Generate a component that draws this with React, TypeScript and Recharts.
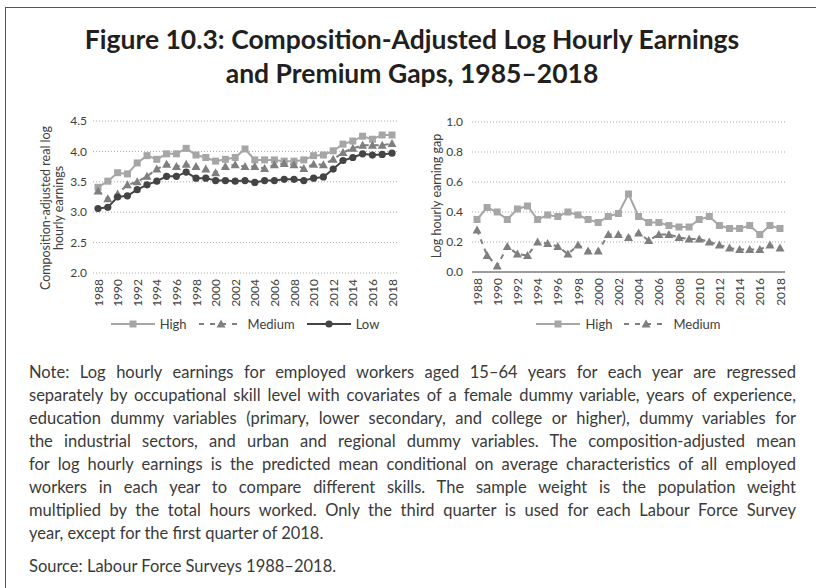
import React from "react";
import { LineChart, Line, XAxis, YAxis, CartesianGrid, Legend, Label } from "recharts";

const years = [
  "1988", "1989", "1990", "1991", "1992", "1993", "1994", "1995", "1996", "1997",
  "1998", "1999", "2000", "2001", "2002", "2003", "2004", "2005", "2006", "2007",
  "2008", "2009", "2010", "2011", "2012", "2013", "2014", "2015", "2016", "2017", "2018",
];

// composition-adjusted log hourly earnings
const earnHigh = [
  3.41, 3.51, 3.65, 3.63, 3.81, 3.93, 3.87, 3.96, 3.96, 4.05,
  3.94, 3.90, 3.84, 3.87, 3.90, 4.04, 3.86, 3.86, 3.86, 3.84,
  3.84, 3.86, 3.93, 3.94, 4.01, 4.12, 4.17, 4.25, 4.20, 4.27, 4.27,
];
const earnMedium = [
  3.35, 3.22, 3.30, 3.45, 3.50, 3.59, 3.71, 3.79, 3.75, 3.79,
  3.75, 3.71, 3.65, 3.75, 3.78, 3.75, 3.75, 3.72, 3.78, 3.80,
  3.78, 3.72, 3.79, 3.78, 3.87, 3.98, 4.05, 4.10, 4.10, 4.10, 4.13,
];
const earnLow = [
  3.06, 3.08, 3.25, 3.27, 3.37, 3.45, 3.51, 3.59, 3.59, 3.66,
  3.56, 3.56, 3.52, 3.52, 3.51, 3.52, 3.49, 3.52, 3.52, 3.54,
  3.54, 3.52, 3.56, 3.58, 3.71, 3.85, 3.90, 3.96, 3.94, 3.95, 3.97,
];

// premium gaps vs low skill
const gapHigh = [
  0.35, 0.43, 0.40, 0.35, 0.42, 0.44, 0.35, 0.38, 0.37, 0.40,
  0.38, 0.35, 0.33, 0.37, 0.39, 0.52, 0.37, 0.33, 0.33, 0.31,
  0.30, 0.30, 0.35, 0.37, 0.31, 0.29, 0.29, 0.31, 0.25, 0.31, 0.29,
];
const gapMedium = [
  0.28, 0.11, 0.04, 0.17, 0.12, 0.11, 0.20, 0.19, 0.17, 0.12,
  0.18, 0.14, 0.14, 0.25, 0.25, 0.23, 0.26, 0.21, 0.25, 0.25,
  0.23, 0.22, 0.22, 0.20, 0.18, 0.16, 0.15, 0.15, 0.15, 0.18, 0.16,
];

const earnTicks = [2.0, 2.5, 3.0, 3.5, 4.0, 4.5];
const gapTicks = [0, 0.1, 0.2, 0.3, 0.4, 0.5, 0.6, 0.7, 0.8, 0.9, 1.0];

const noteLines = [
  "Note: Log hourly earnings for employed workers aged 15–64 years for each year are regressed",
  "separately by occupational skill level with covariates of a female dummy variable, years of experience,",
  "education dummy variables (primary, lower secondary, and college or higher), dummy variables for",
  "the industrial sectors, and urban and regional dummy variables. The composition-adjusted mean",
  "for log hourly earnings is the predicted mean conditional on average characteristics of all employed",
  "workers in each year to compare different skills. The sample weight is the population weight",
  "multiplied by the total hours worked. Only the third quarter is used for each Labour Force Survey",
  "year, except for the first quarter of 2018.",
];

const earnData = years.map((year, i) => ({
  year,
  high: earnHigh[i],
  medium: earnMedium[i],
  low: earnLow[i],
}));
const gapData = years.map((year, i) => ({ year, high: gapHigh[i], medium: gapMedium[i] }));

const HIGH = "#a6a6a6";
const MED = "#7f7f7f";
const LOW = "#444444";
const TEXT = "#404040";
const FONT = "Lato, 'Open Sans', sans-serif";

type Shape = "square" | "triangle" | "circle";

function marker(shape: Shape, color: string, cx: number, cy: number, key?: any) {
  if (shape === "square") return <rect key={key} x={cx - 3.5} y={cy - 3.5} width={7} height={7} fill={color} />;
  if (shape === "triangle")
    return <polygon key={key} points={`${cx},${cy - 4.5} ${cx + 4.5},${cy + 3.5} ${cx - 4.5},${cy + 3.5}`} fill={color} />;
  return <circle key={key} cx={cx} cy={cy} r={3.6} fill={color} />;
}

const dotOf = (shape: Shape, color: string) => (p: any) => {
  if (p.cx == null || p.cy == null) return <g key={p.index} />;
  return marker(shape, color, p.cx, p.cy, p.index);
};

const YearTick = ({ x, y, payload }: any) => (
  <text
    x={x}
    y={y}
    transform={`rotate(-90, ${x}, ${y})`}
    textAnchor="end"
    dominantBaseline="central"
    fontSize={12}
    fill={TEXT}
    fontFamily={FONT}
  >
    {payload.value}
  </text>
);

type Item = { label: string; color: string; shape: Shape; dashed?: boolean };

const makeLegend = (items: Item[]) => () => (
  <div style={{ display: "flex", justifyContent: "center", alignItems: "center", height: 22, fontSize: 13, color: TEXT, fontFamily: FONT }}>
    {items.map((it) => (
      <span key={it.label} style={{ display: "inline-flex", alignItems: "center", margin: "0 6px" }}>
        <svg width={44} height={12}>
          <line x1={0} y1={6} x2={44} y2={6} stroke={it.color} strokeWidth={2} strokeDasharray={it.dashed ? "5 6" : undefined} />
          {marker(it.shape, it.color, 22, 6)}
        </svg>
        <span style={{ marginLeft: 5 }}>{it.label}</span>
      </span>
    ))}
  </div>
);

const yTitle = (lines: string[], x: number, y: number) => () => (
  <text transform={`rotate(-90, ${x}, ${y})`} x={x} y={y} textAnchor="middle" fontSize={12.5} fill={TEXT} fontFamily={FONT}>
    {lines.map((l, i) => (
      <tspan key={i} x={x} dy={i === 0 ? 0 : 13}>
        {l}
      </tspan>
    ))}
  </text>
);

function EarningsChart() {
  return (
    <LineChart width={390} height={225} data={earnData} margin={{ top: 11, right: 13, bottom: 0, left: 0 }}>
      <CartesianGrid vertical={false} stroke="#a8a8a8" strokeDasharray="1 2" />
      <XAxis
        dataKey="year"
        interval={1}
        axisLine={false}
        tickLine={false}
        tickSize={4}
        tickMargin={2}
        height={40}
        padding={{ left: 5, right: 5 }}
        tick={<YearTick />}
      />
      <YAxis
        width={73}
        domain={[2, 4.5]}
        ticks={earnTicks}
        axisLine={false}
        tickLine={false}
        tickSize={3}
        tickMargin={3}
        tickFormatter={(v: number) => v.toFixed(1)}
        tick={{ fontSize: 12, fill: TEXT, fontFamily: FONT }}
      >
        <Label content={yTitle(["Composition-adjusted real log", "hourly earnings"], 30, 98)} />
      </YAxis>
      <Legend
        verticalAlign="bottom"
        wrapperStyle={{ left: 73, width: 304, height: 22 }}
        content={makeLegend([
          { label: "High", color: HIGH, shape: "square" },
          { label: "Medium", color: MED, shape: "triangle", dashed: true },
          { label: "Low", color: LOW, shape: "circle" },
        ])}
      />
      <Line dataKey="high" stroke={HIGH} strokeWidth={2} dot={dotOf("square", HIGH)} isAnimationActive={false} />
      <Line dataKey="medium" stroke={MED} strokeWidth={2} strokeDasharray="5 5" dot={dotOf("triangle", MED)} isAnimationActive={false} />
      <Line dataKey="low" stroke={LOW} strokeWidth={2} dot={dotOf("circle", LOW)} isAnimationActive={false} />
    </LineChart>
  );
}

function GapChart() {
  return (
    <LineChart width={390} height={225} data={gapData} margin={{ top: 12, right: 15, bottom: 0, left: 0 }}>
      <CartesianGrid vertical={false} stroke="#a8a8a8" strokeDasharray="1 2" />
      <XAxis
        dataKey="year"
        interval={1}
        axisLine={{ stroke: "#808080", strokeWidth: 1.5 }}
        tickLine={false}
        tickSize={4}
        tickMargin={2}
        height={41}
        padding={{ left: 5, right: 5 }}
        tick={<YearTick />}
      />
      <YAxis
        width={62}
        domain={[0, 1]}
        ticks={gapTicks}
        axisLine={false}
        tickLine={false}
        tickSize={6}
        tickMargin={3}
        tickFormatter={(v: number) => v.toFixed(1)}
        tick={{ fontSize: 12, fill: TEXT, fontFamily: FONT }}
      >
        <Label content={yTitle(["Log hourly earning gap"], 31, 86)} />
      </YAxis>
      <Legend
        verticalAlign="bottom"
        wrapperStyle={{ left: 62, width: 313, height: 22 }}
        content={makeLegend([
          { label: "High", color: HIGH, shape: "square" },
          { label: "Medium", color: MED, shape: "triangle", dashed: true },
        ])}
      />
      <Line dataKey="high" stroke={HIGH} strokeWidth={2} dot={dotOf("square", HIGH)} isAnimationActive={false} />
      <Line dataKey="medium" stroke={MED} strokeWidth={2} strokeDasharray="5 5" dot={dotOf("triangle", MED)} isAnimationActive={false} />
    </LineChart>
  );
}

export default function App() {
  return (
    <div style={{ position: "absolute", left: 0, top: 0, width: 816, height: 588, overflow: "hidden", background: "#fff", fontFamily: FONT }}>
      <div style={{ position: "absolute", left: 5, top: 7, width: 900, height: 700, borderTop: "1.5px solid #555", borderLeft: "1.5px solid #555" }} />
      <div
        style={{
          position: "absolute",
          left: 0,
          top: 22,
          width: 824,
          textAlign: "center",
          fontSize: 26.5,
          lineHeight: "34px",
          fontWeight: 700,
          color: "#231f20",
        }}
      >
        <div>Figure 10.3: Composition-Adjusted Log Hourly Earnings</div>
        <div>and Premium Gaps, 1985–2018</div>
      </div>
      <div style={{ position: "absolute", left: 20, top: 110 }}>
        <EarningsChart />
      </div>
      <div style={{ position: "absolute", left: 410, top: 110 }}>
        <GapChart />
      </div>
      <div style={{ position: "absolute", left: 29, top: 361, width: 767, fontSize: 16.5, lineHeight: "23px", color: "#3a3a3a" }}>
        {noteLines.map((l, i) => (
          <div
            key={i}
            style={{
              height: 23,
              textAlign: i < noteLines.length - 1 ? "justify" : "left",
              textAlignLast: i < noteLines.length - 1 ? "justify" : "left",
              wordSpacing: i === 1 ? "-1px" : undefined,
            }}
          >
            {l}
          </div>
        ))}
        <div style={{ marginTop: 10 }}>Source: Labour Force Surveys 1988–2018.</div>
      </div>
    </div>
  );
}
